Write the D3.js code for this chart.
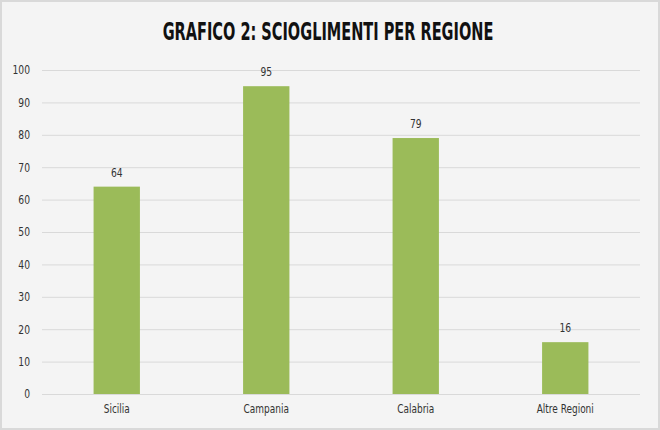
<!DOCTYPE html>
<html>
<head>
<meta charset="utf-8">
<script src="https://cdn.jsdelivr.net/npm/d3@7"></script>
<style>
  html, body { margin: 0; padding: 0; background: #fff; }
  svg { display: block; }
</style>
</head>
<body>
<svg id="chart"></svg>
<script>
// data
const regions = ['Sicilia', 'Campania', 'Calabria', 'Altre Regioni'];
const counts = [64, 95, 79, 16];
const yTicks = [0, 10, 20, 30, 40, 50, 60, 70, 80, 90, 100];
const title = 'GRAFICO 2: SCIOGLIMENTI PER REGIONE';

const width = 660, height = 430;
const margin = { top: 70, right: 20, bottom: 36, left: 42 };
const font = '"DejaVu Sans Condensed", "DejaVu Sans", sans-serif';

// squeeze text a bit, the original uses a narrow face
function narrow(sel, k) {
  sel.each(function () {
    const w = this.getComputedTextLength();
    d3.select(this).attr('textLength', w * k).attr('lengthAdjust', 'spacingAndGlyphs');
  });
}

const svg = d3.select('#chart')
  .attr('width', width)
  .attr('height', height)
  .style('font-family', font);

// card background + border
svg.append('rect')
  .attr('x', 1).attr('y', 1)
  .attr('width', width - 2).attr('height', height - 2)
  .attr('fill', '#f4f4f4')
  .attr('stroke', '#d9d9d9')
  .attr('stroke-width', 2);

// title: scale it horizontally to the narrow width of the original
const titleText = svg.append('text')
  .attr('text-anchor', 'middle')
  .attr('fill', '#111')
  .style('font-size', '25px')
  .style('font-weight', 'bold')
  .text(title);
const tw = titleText.node().getComputedTextLength();
titleText.attr('transform', `translate(328,40) scale(${331 / tw},1)`);

const x = d3.scaleBand()
  .domain(regions)
  .range([margin.left, width - margin.right])
  .paddingInner(0.69)
  .paddingOuter(0.345);

const y = d3.scaleLinear()
  .domain([0, 100])
  .range([height - margin.bottom, margin.top]);

// gridlines
svg.append('g')
  .selectAll('line')
  .data(yTicks)
  .join('line')
  .attr('x1', margin.left)
  .attr('x2', width - margin.right)
  .attr('y1', d => y(d) + 0.5)
  .attr('y2', d => y(d) + 0.5)
  .attr('stroke', '#d9d9d9')
  .attr('stroke-width', 1);

// y axis labels
const yAxis = svg.append('g')
  .attr('transform', `translate(${margin.left - 12},0)`)
  .call(d3.axisLeft(y).tickValues(yTicks).tickSize(0).tickPadding(0));
yAxis.select('.domain').remove();
yAxis.selectAll('text')
  .attr('fill', '#333')
  .style('font-size', '12px')
  .style('font-family', font)
  .call(narrow, 0.85);

// x axis labels
const xAxis = svg.append('g')
  .attr('transform', `translate(0,${height - margin.bottom})`)
  .call(d3.axisBottom(x).tickSize(0).tickPadding(10));
xAxis.select('.domain').remove();
xAxis.selectAll('text')
  .attr('fill', '#333')
  .style('font-size', '12px')
  .style('font-family', font)
  .call(narrow, 0.83);

// bars
svg.append('g')
  .selectAll('rect')
  .data(counts)
  .join('rect')
  .attr('x', (d, i) => x(regions[i]))
  .attr('y', d => y(d))
  .attr('width', x.bandwidth())
  .attr('height', d => y(0) - y(d))
  .attr('fill', '#9bbb59');

// value labels
svg.append('g')
  .selectAll('text')
  .data(counts)
  .join('text')
  .attr('x', (d, i) => x(regions[i]) + x.bandwidth() / 2)
  .attr('y', d => y(d) - 10)
  .attr('text-anchor', 'middle')
  .attr('fill', '#333')
  .style('font-size', '12px')
  .text(d => d)
  .call(narrow, 0.85);
</script>
</body>
</html>
